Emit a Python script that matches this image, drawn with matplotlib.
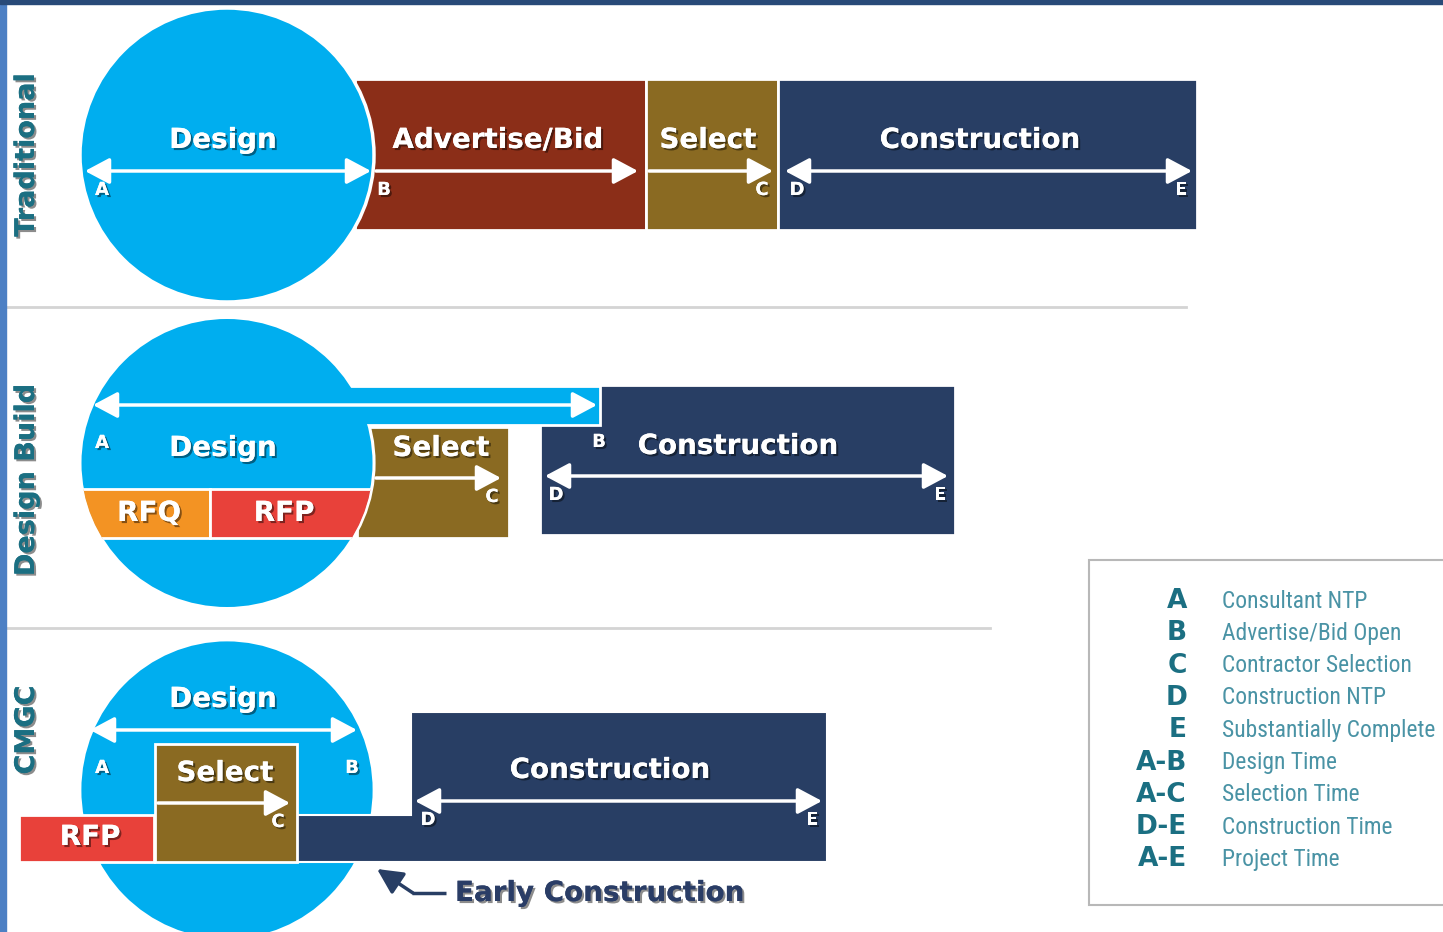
import numpy as np
import matplotlib
matplotlib.use("Agg")
import matplotlib.pyplot as plt
import matplotlib.patheffects as pe
from matplotlib import font_manager
from matplotlib.patches import Rectangle, Ellipse, Polygon, FancyArrowPatch

# ---- diagram content ----
sections = ["Traditional", "Design Build", "CMGC"]

trad_phases = ["Advertise/Bid", "Select", "Construction"]
trad_edges = [355, 646, 778, 1197]          # phase boundaries along the timeline

db_phases = ["RFQ", "RFP", "Select", "Construction"]
cmgc_phases = ["RFP", "Select", "Construction"]

legend_keys = ["A", "B", "C", "D", "E", "A-B", "A-C", "D-E", "A-E"]
legend_text = ["Consultant NTP", "Advertise/Bid Open", "Contractor Selection",
               "Construction NTP", "Substantially Complete", "Design Time",
               "Selection Time", "Construction Time", "Project Time"]

CYAN = "#00aeef"
RUST = "#8b2e18"
OLIVE = "#8a6a22"
NAVY = "#283e64"
ORANGE = "#f39323"
RED = "#e8413a"
TEAL = "#1b6f82"
TEAL2 = "#4a93a5"

shadow = [pe.withSimplePatchShadow(offset=(1.5, -1.5), shadow_rgbFace="black", alpha=0.45), pe.Normal()]

# narrow font for the legend descriptions, whichever is installed
installed = {f.name for f in font_manager.fontManager.ttflist}
narrow = next((f for f in ["Roboto Condensed", "Liberation Sans Narrow", "DejaVu Sans Condensed",
                           "Roboto", "Liberation Sans"] if f in installed), "DejaVu Sans")

fig = plt.figure(figsize=(14.43, 9.32), dpi=100)
ax = fig.add_axes([0, 0, 1, 1])
ax.set_xlim(0, 1443)
ax.set_ylim(932, 0)
ax.axis("off")


def label(x, y, s, size=20, color="white", ha="center", **kw):
    ax.text(x, y, s, fontsize=size, color=color, ha=ha, va="center",
            fontweight="bold", path_effects=shadow, zorder=20, **kw)


def arrow(x0, x1, y, both=True):
    style = "<|-|>" if both else "-|>"
    ax.add_patch(FancyArrowPatch((x0, y), (x1, y), arrowstyle=style + ",head_length=0.6,head_width=0.32",
                                 mutation_scale=25, lw=2.5, color="white", shrinkA=0, shrinkB=0, zorder=15))


def box(x0, x1, y0, y1, color, z=2, lw=2):
    r = Rectangle((x0, y0), x1 - x0, y1 - y0, facecolor=color, edgecolor="white", lw=lw, zorder=z)
    ax.add_patch(r)
    return r


# frame strips
ax.add_patch(Rectangle((0, 0), 6, 932, color="#4d80c4", zorder=30))
ax.add_patch(Rectangle((0, 0), 1443, 4, color="#284a78", zorder=30))

# separators
ax.plot([6, 1186], [307, 307], color="#d4d4d4", lw=2, zorder=1)
ax.plot([6, 990], [628, 628], color="#d4d4d4", lw=2, zorder=1)

# section titles
for s, yc in zip(sections, [155, 480, 730]):
    ax.text(27, yc, s, rotation=90, fontsize=19.5, fontweight="bold", color=TEAL,
            ha="center", va="center", path_effects=shadow, zorder=20)

# ---------------- Traditional ----------------
trad_colors = [RUST, OLIVE, NAVY]
for i, c in enumerate(trad_colors):
    box(trad_edges[i], trad_edges[i + 1], 79, 230, c)
ax.add_patch(Ellipse((227, 155), 294, 294, facecolor=CYAN, edgecolor="white", lw=2.5, zorder=5))
label(223, 140, "Design")
label(498, 140, trad_phases[0])
label(708, 140, trad_phases[1])
label(980, 140, trad_phases[2])
arrow(85, 371, 171)
arrow(376, 638, 171, both=False)
arrow(649, 773, 171, both=False)
arrow(785, 1192, 171)
for x, s in zip([102, 384, 762, 797, 1181], "ABCDE"):
    label(x, 190, s, size=13)

# ---------------- Design Build ----------------
box(357, 509, 427, 538, OLIVE)
box(540, 955, 385, 535, NAVY)
ax.add_patch(Ellipse((227, 463), 293, 290, facecolor=CYAN, edgecolor="white", lw=3, zorder=5))
box(227, 600, 386, 425, CYAN, z=6)
ax.add_patch(Ellipse((227, 463), 291, 288, facecolor=CYAN, edgecolor="none", zorder=7))
clip = Ellipse((227, 463), 292, 289, transform=ax.transData)
for x0, x1, c in [(60, 210, ORANGE), (210, 400, RED)]:
    r = box(x0, x1, 489, 538, c, z=8)
    r.set_clip_path(clip)
label(223, 448, "Design")
label(149, 513, db_phases[0])
label(284, 513, db_phases[1])
label(441, 448, db_phases[2])
label(738, 446, db_phases[3])
arrow(93, 597, 405)
arrow(376, 501, 478, both=False)
arrow(545, 948, 476)
for x, y, s in [(102, 443, "A"), (599, 442, "B"), (492, 497, "C"), (556, 495, "D"), (940, 495, "E")]:
    label(x, y, s, size=13)

# ---------------- CMGC ----------------
ax.add_patch(Ellipse((227, 790), 294, 300, facecolor=CYAN, edgecolor="white", lw=2, zorder=3))
ax.add_patch(Polygon([(297, 815), (411, 815), (411, 712), (827, 712), (827, 862), (297, 862)],
                     closed=True, facecolor=NAVY, edgecolor="white", lw=1.5, zorder=4))
box(19, 154, 815, 862, RED, z=5)
box(155, 297, 744, 862, OLIVE, z=5)
label(223, 699, "Design")
label(90, 837, cmgc_phases[0])
label(225, 773, cmgc_phases[1])
label(610, 770, cmgc_phases[2])
arrow(90, 357, 730)
arrow(158, 290, 803, both=False)
arrow(415, 822, 801)
for x, y, s in [(102, 768, "A"), (352, 768, "B"), (278, 822, "C"), (428, 820, "D"), (812, 820, "E")]:
    label(x, y, s, size=13)

# early construction pointer
ax.plot([446, 412], [893, 893], color=NAVY, lw=2.5, zorder=10, solid_capstyle="butt")
ax.add_patch(FancyArrowPatch((413, 893), (377, 869), arrowstyle="-|>,head_length=0.7,head_width=0.35",
                             mutation_scale=22, lw=2.5, color=NAVY, shrinkA=0, shrinkB=0, zorder=10))
label(455, 893, "Early Construction", color="#2a3d66", ha="left")

# ---------------- legend ----------------
ax.add_patch(Rectangle((1089, 560), 365, 345, facecolor="white", edgecolor="#b8b8b8", lw=1.5, zorder=2))
desc = []
for i, (k, t) in enumerate(zip(legend_keys, legend_text)):
    y = 601 + i * 32.3
    ax.text(1187, y, k, fontsize=19, fontweight="bold", color=TEAL, ha="right", va="center", zorder=5)
    desc.append(ax.text(1222, y, t, fontsize=18, color=TEAL2, ha="left", va="center", zorder=5,
                        family=narrow))

# shrink the descriptions so the longest one ends inside the picture
renderer = fig.canvas.get_renderer()
widest = max(d.get_window_extent(renderer).width for d in desc)
size = min(20, 18 * 214 / widest)
for d in desc:
    d.set_fontsize(size)

fig.savefig("out.png", dpi=100)
